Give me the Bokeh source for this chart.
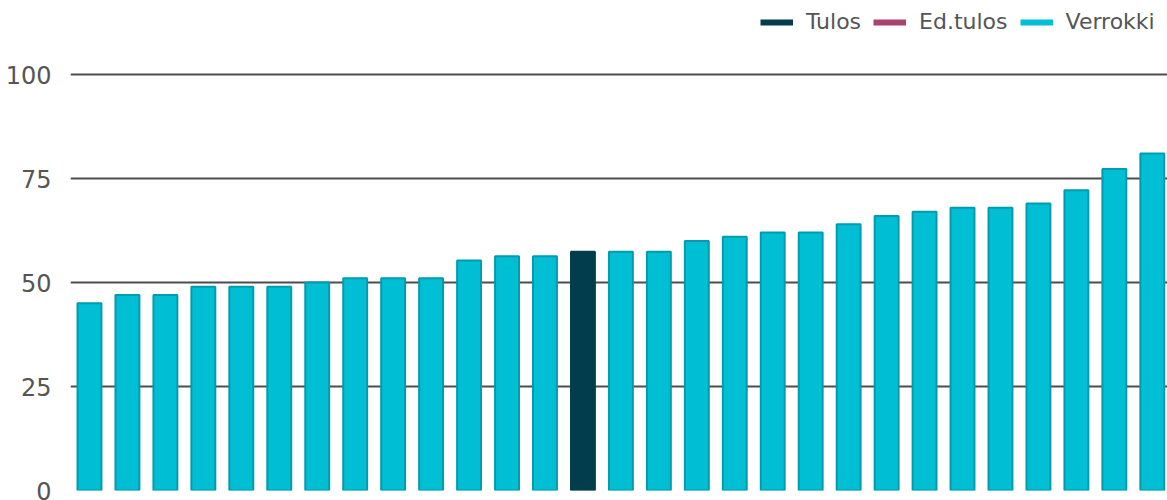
from bokeh.plotting import figure
from bokeh.models import ColumnDataSource, Range1d, Legend, LegendItem, FixedTicker
from bokeh.embed import file_html
from bokeh.resources import INLINE

categories = ["K01", "K02", "K03", "K04", "K05", "K06", "K07", "K08", "K09", "K10",
              "K11", "K12", "K13", "K14", "K15", "K16", "K17", "K18", "K19", "K20",
              "K21", "K22", "K23", "K24", "K25", "K26", "K27", "K28", "K29"]
values = [45, 47, 47, 49, 49, 49, 50, 51, 51, 51,
          55.3, 56.3, 56.3, 57.4, 57.4, 57.4, 60, 61, 62, 62,
          64, 66, 67, 68, 68, 69, 72.2, 77.3, 81]
series = ["Verrokki"] * 13 + ["Tulos"] + ["Verrokki"] * 15
legend_labels = ["Tulos", "Ed.tulos", "Verrokki"]
y_ticks = [0, 25, 50, 75, 100]

colors = {"Tulos": "#023d4c", "Ed.tulos": "#a8436f", "Verrokki": "#00bfd5"}
outline = {"Tulos": "#023d4c", "Ed.tulos": "#a8436f", "Verrokki": "#009cad"}

src = ColumnDataSource(dict(
    x=list(range(len(categories))), name=categories, top=values,
    fill=[colors[s] for s in series],
    line=[outline[s] for s in series],
))

p = figure(width=1167, height=500, x_range=Range1d(-0.5, 28.4),
           y_range=Range1d(0, 117.8), output_backend="svg", toolbar_location=None,
           min_border_left=70, min_border_right=0, min_border_top=0, min_border_bottom=10)
p.outline_line_color = None
p.background_fill_color = "white"
p.border_fill_color = "white"

p.ygrid.grid_line_color = "#4d4d4d"
p.ygrid.grid_line_width = 2
p.ygrid.ticker = FixedTicker(ticks=y_ticks)
p.xgrid.grid_line_color = None

p.vbar(x="x", top="top", width=0.63, source=src, fill_color="fill",
       line_color="line", line_width=2)

p.xaxis.visible = False
p.yaxis.ticker = FixedTicker(ticks=y_ticks)
p.yaxis.axis_line_color = None
p.yaxis.major_tick_line_color = None
p.yaxis.minor_tick_line_color = None
p.yaxis.major_label_text_font = "DejaVu Sans"
p.yaxis.major_label_text_font_size = "24px"
p.yaxis.major_label_text_color = "#555555"
p.yaxis.major_label_standoff = 13

items = []
for lab in legend_labels:
    r = p.line(x=[0, 0], y=[-10, -10], line_color=colors[lab], line_width=6)
    items.append(LegendItem(label=lab, renderers=[r]))

legend = Legend(items=items, orientation="horizontal", location=(690, 456),
                label_text_font="DejaVu Sans", label_text_font_size="22px",
                label_text_color="#555555", glyph_width=33, glyph_height=20,
                spacing=12, label_standoff=13, padding=2, margin=0,
                border_line_color=None, background_fill_alpha=0)
p.add_layout(legend)

open("out.html", "w").write(file_html(p, INLINE))
